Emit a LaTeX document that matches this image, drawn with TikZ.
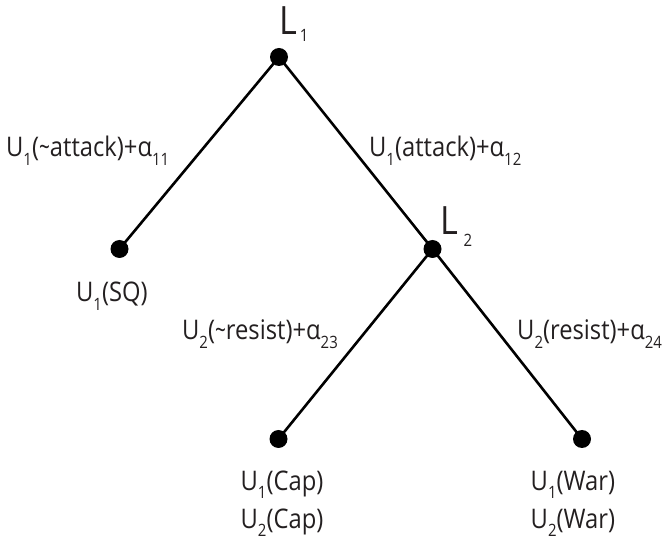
\documentclass[tikz,border=0pt]{standalone}
\usepackage{fontspec}
\setmainfont{Open Sans}[FakeStretch=0.88]
\definecolor{txt}{RGB}{35,31,32}
\newcommand{\subx}[1]{\raisebox{-9pt}{\fontsize{17}{17}\selectfont #1}}
\newcommand{\tld}{\scalebox{0.8}[1]{\textasciitilde}}
\begin{document}
\begin{tikzpicture}[x=1pt,y=-1pt,
  dot/.style={circle,fill=black,inner sep=0pt,minimum size=18pt},
  edge/.style={line width=2.6pt,black},
  lbl/.style={anchor=base west,inner sep=0pt,text=txt,font=\fontsize{27}{27}\selectfont},
  big/.style={anchor=base west,inner sep=0pt,text=txt,font=\fontsize{39}{39}\selectfont}]
\useasboundingbox (0,0) rectangle (665,540);
\node[dot] (n1) at (279,57) {};
\node[dot] (sq) at (119.5,249) {};
\node[dot] (n2) at (432.5,249) {};
\node[dot] (cap) at (278.5,439) {};
\node[dot] (war) at (582,439) {};
\draw[edge] (n1.center) -- (sq.center);
\draw[edge] (n1.center) -- (n2.center);
\draw[edge] (n2.center) -- (cap.center);
\draw[edge] (n2.center) -- (war.center);
\node[big] (l1) at (279,35) {L\raisebox{-7pt}{\fontsize{17}{17}\selectfont\,1}};
\node[big] (l2) at (440,235) {L\raisebox{-12pt}{\fontsize{17}{17}\selectfont\,\,2}};
\node[lbl] (a11) at (6,157) {U\subx{1}(\tld attack)+α\subx{11}};
\node[lbl] (a12) at (369,157) {U\subx{1}(attack)+α\subx{12}};
\node[lbl] (a23) at (182,340) {U\subx{2}(\tld resist)+α\subx{23}};
\node[lbl] (a24) at (517,340) {U\subx{2}(resist)+α\subx{24}};
\node[lbl] (usq) at (76,302) {U\subx{1}(SQ)};
\node[lbl] (ucap1) at (240.5,490) {U\subx{1}(Cap)};
\node[lbl] (ucap2) at (240.5,528) {U\subx{2}(Cap)};
\node[lbl] (uwar1) at (530.5,490) {U\subx{1}(War)};
\node[lbl] (uwar2) at (530.5,528) {U\subx{2}(War)};
\end{tikzpicture}
\end{document}
